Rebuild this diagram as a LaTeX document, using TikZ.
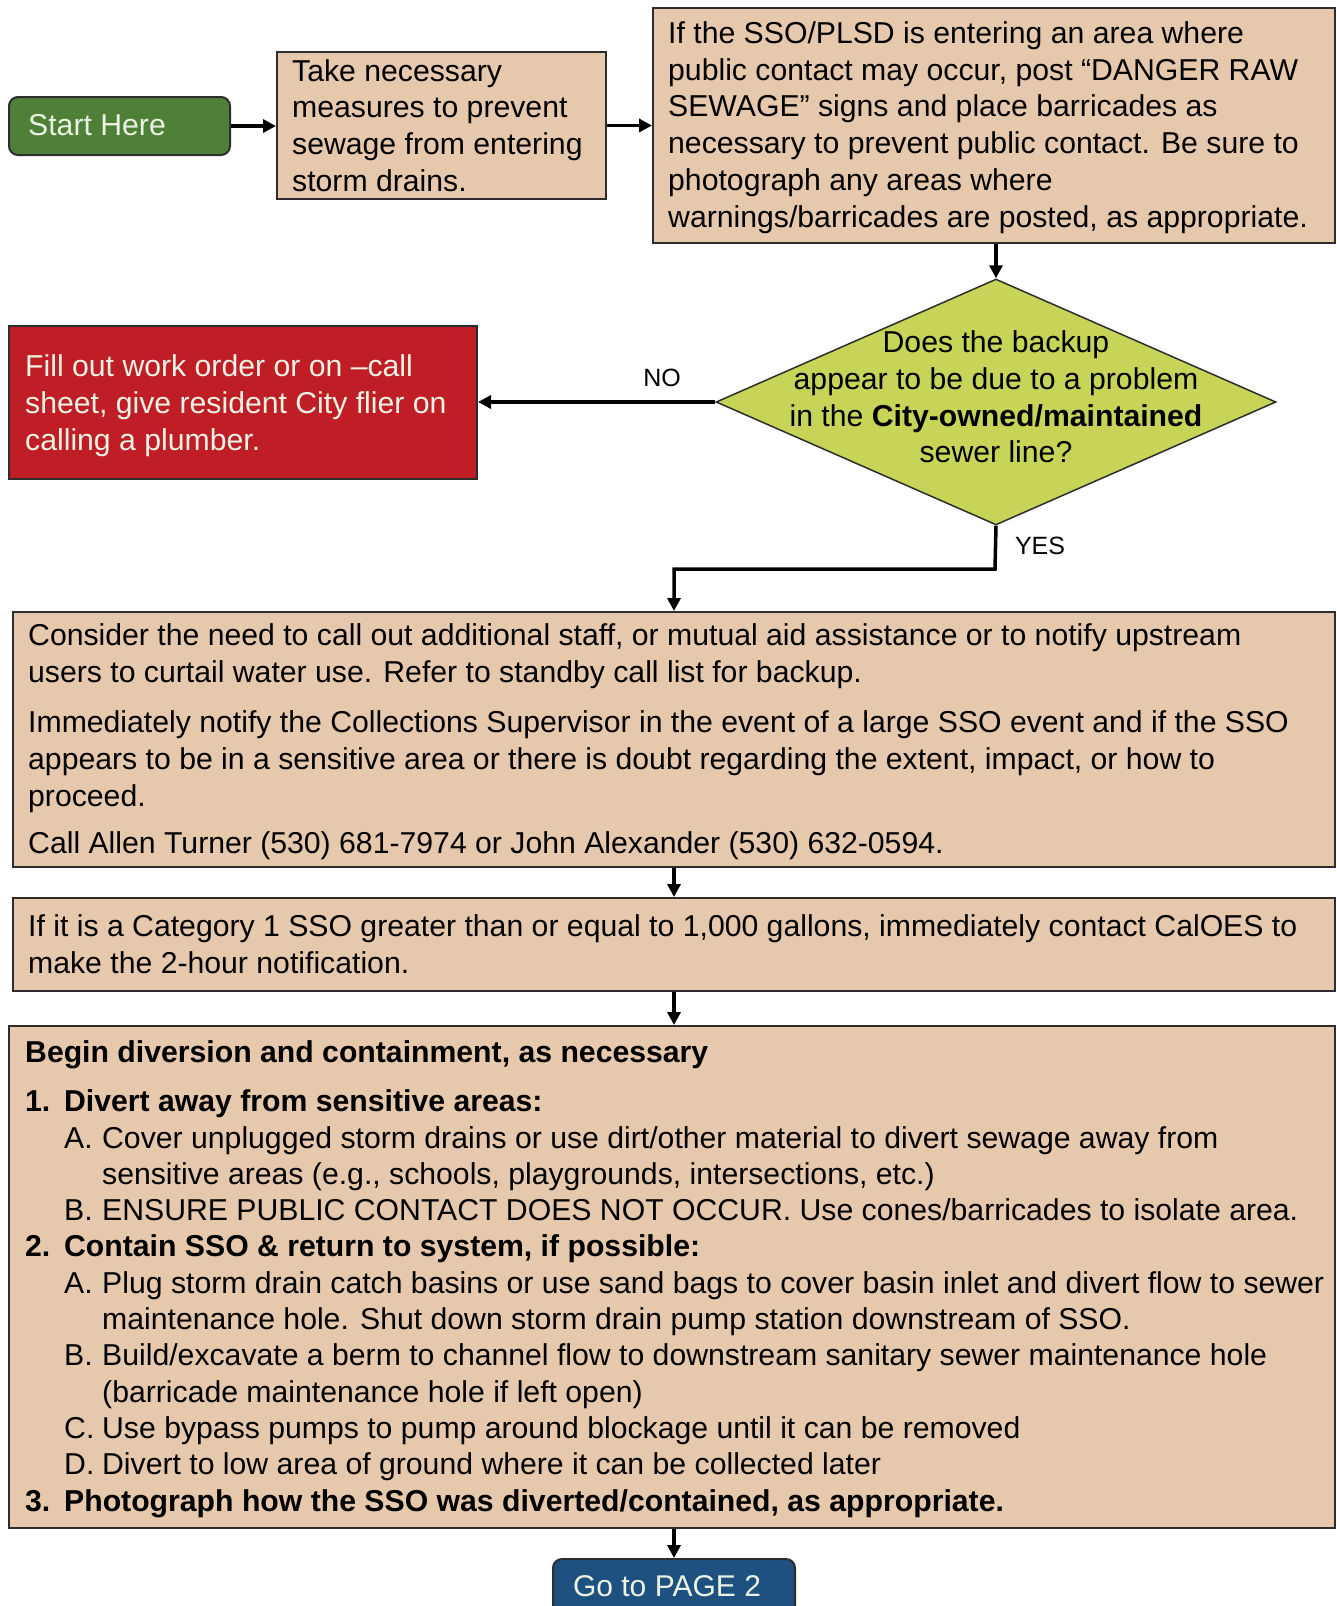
\documentclass[tikz,border=0pt]{standalone}
\usepackage{fontspec}
\setmainfont{Liberation Sans}
\usetikzlibrary{shapes.geometric,arrows.meta}
\definecolor{tanbox}{RGB}{230,201,172}
\definecolor{startgreen}{RGB}{78,128,56}
\definecolor{redbox}{RGB}{192,30,38}
\definecolor{diagreen}{RGB}{200,212,88}
\definecolor{bluebox}{RGB}{30,80,128}
\definecolor{edgegray}{RGB}{45,45,45}
\definecolor{lighttext}{RGB}{236,242,228}
\begin{document}
\begin{tikzpicture}[x=1pt,y=-1pt,
  box/.style={draw=edgegray, line width=2pt, fill=tanbox, anchor=north west, inner sep=0pt},
  txt/.style={anchor=west, align=left, inner sep=0pt, text=black, font=\fontsize{30.2}{36.8}\selectfont},
  lbl/.style={inner sep=0pt, font=\fontsize{25}{30}\selectfont},
  conn/.style={line width=3.5pt, draw=black, -{Triangle[length=13pt,width=13pt]}},
]
\clip (0,0) rectangle (1336,1606);
\fill[white] (0,0) rectangle (1336,1606);

% Start Here
\node[box, fill=startgreen, rounded corners=9pt, minimum width=221pt, minimum height=58pt] (start) at (8,96) {};
\node[txt, text=lighttext] (startt) at ([xshift=20pt,yshift=1pt]start.west) {Start Here};

% Box 2
\node[box, minimum width=329pt, minimum height=147pt] (b2) at (276,51) {};
\node[txt] (b2t) at ([xshift=16pt]b2.west) {Take necessary\\measures to prevent\\sewage from entering\\storm drains.};

% Box 3
\node[box, minimum width=682pt, minimum height=235pt] (b3) at (652,7) {};
\node[txt] (b3t) at ([xshift=16pt,yshift=-2pt]b3.west) {If the SSO/PLSD is entering an area where\\public contact may occur, post “DANGER RAW\\SEWAGE” signs and place barricades as\\necessary to prevent public contact. Be sure to\\photograph any areas where\\warnings/barricades are posted, as appropriate.};

% Diamond
\node[draw=edgegray, line width=1.5pt, fill=diagreen, diamond, inner sep=0pt, minimum width=560pt, minimum height=246pt] (dia) at (996,402) {};
\node[inner sep=0pt, align=center, font=\fontsize{30.2}{36.8}\selectfont] (diat) at (996,397) {Does the backup\\appear to be due to a problem\\in the \textbf{City-owned/maintained}\\sewer line?};

% Red box
\node[box, fill=redbox, minimum width=468pt, minimum height=153pt] (red) at (8,325) {};
\node[txt, text=lighttext] (redt) at ([xshift=17pt,yshift=-3pt]red.west) {Fill out work order or on –call\\sheet, give resident City flier on\\calling a plumber.};

% Big box 1
\node[box, minimum width=1322pt, minimum height=255pt] (b4) at (12,611) {};
\node[txt] (b4t) at ([xshift=16pt,yshift=-2pt]b4.west) {Consider the need to call out additional staff, or mutual aid assistance or to notify upstream\\users to curtail water use. Refer to standby call list for backup.\\[14pt]Immediately notify the Collections Supervisor in the event of a large SSO event and if the SSO\\appears to be in a sensitive area or there is doubt regarding the extent, impact, or how to\\proceed.\\[10pt]Call Allen Turner (530) 681-7974 or John Alexander (530) 632-0594.};

% Category box
\node[box, minimum width=1322pt, minimum height=93pt] (b5) at (12,897) {};
\node[txt] (b5t) at ([xshift=16pt]b5.west) {If it is a Category 1 SSO greater than or equal to 1,000 gallons, immediately contact CalOES to\\make the 2-hour notification.};

% Bottom box
\node[box, minimum width=1326pt, minimum height=502pt] (b6) at (8,1025) {};
\node[txt, font=\fontsize{30.2}{36.3}\selectfont] (b6t) at ([xshift=17pt,yshift=-2pt]b6.west) {{\bfseries Begin diversion and containment, as necessary}\\[13pt]%
\makebox[39pt][l]{\bfseries 1.}{\bfseries Divert away from sensitive areas:}\\
\hspace*{39pt}\makebox[38pt][l]{A.}Cover unplugged storm drains or use dirt/other material to divert sewage away from\\
\hspace*{77pt}sensitive areas (e.g., schools, playgrounds, intersections, etc.)\\
\hspace*{39pt}\makebox[38pt][l]{B.}ENSURE PUBLIC CONTACT DOES NOT OCCUR. Use cones/barricades to isolate area.\\
\makebox[39pt][l]{\bfseries 2.}{\bfseries Contain SSO \& return to system, if possible:}\\
\hspace*{39pt}\makebox[38pt][l]{A.}Plug storm drain catch basins or use sand bags to cover basin inlet and divert flow to sewer\\
\hspace*{77pt}maintenance hole. Shut down storm drain pump station downstream of SSO.\\
\hspace*{39pt}\makebox[38pt][l]{B.}Build/excavate a berm to channel flow to downstream sanitary sewer maintenance hole\\
\hspace*{77pt}(barricade maintenance hole if left open)\\
\hspace*{39pt}\makebox[38pt][l]{C.}Use bypass pumps to pump around blockage until it can be removed\\
\hspace*{39pt}\makebox[38pt][l]{D.}Divert to low area of ground where it can be collected later\\
\makebox[39pt][l]{\bfseries 3.}{\bfseries Photograph how the SSO was diverted/contained, as appropriate.}};

% Go to page 2
\node[box, fill=bluebox, rounded corners=9pt, minimum width=242pt, minimum height=56pt, anchor=north] (page2) at (674,1558) {};
\node[inner sep=0pt, text=lighttext, font=\fontsize{30}{35}\selectfont] (page2t) at (667,1586) {Go to PAGE 2};

% connectors
\draw[conn] (start.east) -- (b2.west |- start.east);
\draw[conn] (b2.east) -- (b3.west |- b2.east);
\draw[conn] (dia.north |- b3.south) -- (dia.north);
\draw[conn] (dia.west) -- (red.east |- dia.west);
\node[lbl] (nolbl) at (662,378) {NO};
\coordinate (ybend1) at (995,569);
\coordinate (ybend2) at (674,569);
\draw[conn] (dia.south) -- (ybend1) -- (ybend2) -- (b4.north -| ybend2);
\node[lbl] (yeslbl) at (1040,546) {YES};
\coordinate (mx) at (674,0);
\draw[conn] (b4.south -| mx) -- (b5.north -| mx);
\draw[conn] (b5.south -| mx) -- (b6.north -| mx);
\draw[conn] (b6.south -| mx) -- (page2.north);
\end{tikzpicture}
\end{document}
